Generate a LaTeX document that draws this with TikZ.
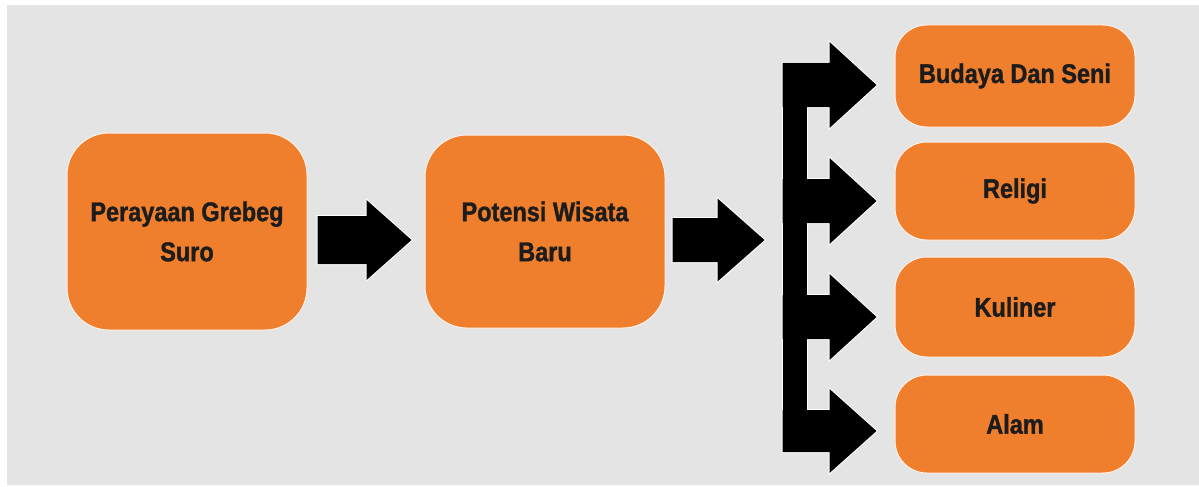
\documentclass[tikz,border=0pt]{standalone}
\usepackage{fontspec}
\setmainfont[FakeStretch=0.87,BoldFeatures={FakeBold=1.2}]{Liberation Sans}
\usetikzlibrary{calc}
\definecolor{bggray}{HTML}{E5E4E4}
\definecolor{boxorange}{HTML}{EF7E2D}
\definecolor{txtdark}{HTML}{1C1C1C}
\tikzset{
  box/.style={draw=white!90!boxorange, line width=1pt, fill=boxorange, rounded corners=#1,
    text=txtdark, font=\fontsize{27}{40}\selectfont\bfseries, align=center,
    minimum width=240pt, inner sep=0pt},
  halo/.style={draw=white, line width=2pt},
  blk/.style={fill=black},
}
\newcommand\fatarrow[6]{%
  % #1 start, #2 tip, #3 head length, #4 shaft half height, #5 head half height, #6 style
  \path[#6] let \p1=(#1), \p2=(#2) in
    (\x1,\y1-#4pt) -- (\x2-#3pt,\y1-#4pt) -- (\x2-#3pt,\y1-#5pt) -- (\p2)
    -- (\x2-#3pt,\y1+#5pt) -- (\x2-#3pt,\y1+#4pt) -- (\x1,\y1+#4pt) -- cycle;}
\begin{document}
\begin{tikzpicture}[x=1pt,y=-1pt]
\useasboundingbox (0,0) rectangle (1199,487);
\fill[white] (0,0) rectangle (1199,487);
\fill[bggray] (7,5) rectangle (1199,485);

\node[box=42pt, minimum height=197pt] (p) at (187,231.5) {Perayaan Grebeg\\Suro};
\node[box=42pt, minimum height=193pt] (w) at (545,231.5) {Potensi Wisata\\Baru};
\node[box=32pt, minimum height=102pt] (r1) at (1015,76) {Budaya Dan Seni};
\node[box=32pt, minimum height=98pt] (r2) at (1015,191) {Religi};
\node[box=32pt, minimum height=100pt] (r3) at (1015,307) {Kuliner};
\node[box=32pt, minimum height=98pt] (r4) at (1015,424) {Alam};

% main arrows
\coordinate (s1) at ($(p.east)+(10,8.5)$);
\coordinate (e1) at ($(w.west)+(-13,8.5)$);
\coordinate (s2) at ($(w.east)+(7,8.5)$);
\coordinate (e2) at ($(w.west)+(340,8.5)$);
\fatarrow{s1}{e1}{45}{24}{40}{halo}
\fatarrow{s1}{e1}{45}{24}{40}{blk}
\fatarrow{s2}{e2}{47}{22}{41.5}{halo}
\fatarrow{s2}{e2}{47}{22}{41.5}{blk}

% branching arrows
\coordinate (t1) at ($(r1.west)+(-18,9)$);
\coordinate (t2) at ($(r2.west)+(-18,10)$);
\coordinate (t3) at ($(r3.west)+(-18,10)$);
\coordinate (t4) at ($(r4.west)+(-18,7)$);
\coordinate (b1) at ($(t1)+(-94,0)$);
\coordinate (b2) at ($(t2)+(-94,0)$);
\coordinate (b3) at ($(t3)+(-94,0)$);
\coordinate (b4) at ($(t4)+(-94,0)$);
\foreach \st in {halo,blk}{
  \path[\st] ($(b1)+(0,-22)$) rectangle ($(b4)+(24,21)$);
  \fatarrow{b1}{t1}{47}{22}{43}{\st}
  \fatarrow{b2}{t2}{47}{22}{43}{\st}
  \fatarrow{b3}{t3}{47}{22}{43}{\st}
  \fatarrow{b4}{t4}{47}{21}{42}{\st}
}
\end{tikzpicture}
\end{document}
